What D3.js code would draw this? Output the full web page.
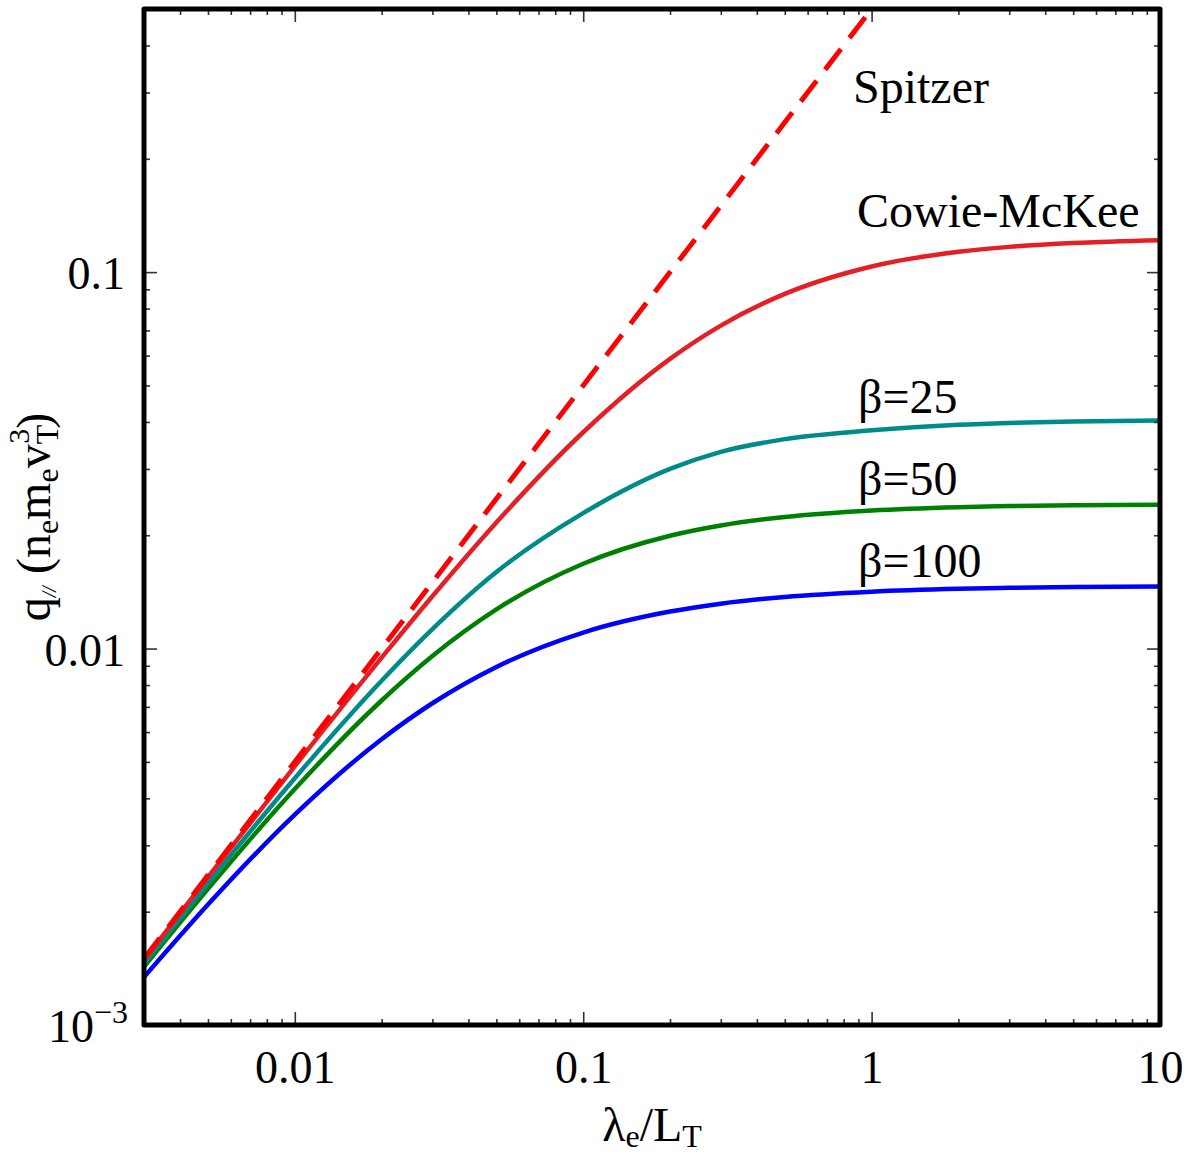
<!DOCTYPE html>
<html>
<head>
<meta charset="utf-8">
<script src="https://cdn.jsdelivr.net/npm/d3@7"></script>
<style>
	body { margin: 0; background: #fff; }
	text { font-family: "Liberation Serif", "Times New Roman", serif; fill: #000; }
</style>
</head>
<body>
<div id="chart"></div>
<script>
var width = 1203, height = 1155

// lambda_e / L_T sample points
const lambda = [0.003, 0.005, 0.01, 0.02, 0.03, 0.05, 0.1, 0.2, 0.3, 0.5, 1, 2, 3, 5, 10]

// q (n_e m_e v_T^3)
const cowieMcKee = [0.001489, 0.002471, 0.004871, 0.009458, 0.01377, 0.02163, 0.03755, 0.05882, 0.07211, 0.08753, 0.1035, 0.1132, 0.1167, 0.1195, 0.1216]
const beta25 = [0.001457, 0.00238, 0.004525, 0.008214, 0.011263, 0.01597, 0.0229, 0.0300, 0.0333, 0.0360, 0.0380, 0.0393, 0.03974, 0.04009, 0.04036]
const beta50 = [0.001427, 0.002299, 0.004235, 0.007279, 0.009557, 0.01271, 0.0168, 0.01994, 0.02123, 0.02237, 0.02328, 0.02375, 0.0239, 0.02402, 0.02411]
const beta100 = [0.00134, 0.002089, 0.003622, 0.005744, 0.007157, 0.008936, 0.01103, 0.01254, 0.01316, 0.01371, 0.01416, 0.01441, 0.0145, 0.01457, 0.01462]

// Spitzer is a straight line in log-log
const spitzerLambda = [0.003, 1]
const spitzerQ = [0.0015, 0.5]

const xMajor = [0.01, 0.1, 1, 10]
const xMajorLabels = ["0.01", "0.1", "1", "10"]
const yMajor = [0.001, 0.01, 0.1]
const yMajorLabels = ["10", "0.01", "0.1"]

const seriesNames = ["Cowie-McKee", "β=25", "β=50", "β=100"]

const margin = {left: 144, right: 43, top: 9, bottom: 130}

const svg = d3.select('#chart')
	.append('svg')
	.attr('width', width)
	.attr('height', height)

const x = d3.scaleLog()
	.domain([0.003, 10])
	.range([margin.left, width - margin.right])

const y = d3.scaleLog()
	.domain([0.001, 0.5])
	.range([height - margin.bottom, margin.top])

const x0 = x.range()[0], x1 = x.range()[1]
const y0 = y.range()[0], y1 = y.range()[1]

svg.append("defs").append("clipPath")
	.attr("id", "plotclip")
	.append("rect")
	.attr("x", x0).attr("y", y1)
	.attr("width", x1 - x0).attr("height", y0 - y1)

const line = d3.line()
	.x(d => x(d[0]))
	.y(d => y(d[1]))
	.curve(d3.curveMonotoneX)

const series = [
	{name: seriesNames[0], values: cowieMcKee, color: "#e41f26"},
	{name: seriesNames[1], values: beta25, color: "#008b8b"},
	{name: seriesNames[2], values: beta50, color: "#008000"},
	{name: seriesNames[3], values: beta100, color: "#0000ff"}
]

const plot = svg.append("g").attr("clip-path", "url(#plotclip)")

// draw lowest first so red stays on top like the original
plot.selectAll("path.curve")
	.data(series.slice().reverse())
	.join("path")
	.attr("class", "curve")
	.attr("fill", "none")
	.attr("stroke", d => d.color)
	.attr("stroke-width", 4.5)
	.attr("d", d => line(lambda.map((l, i) => [l, d.values[i]])))

plot.append("path")
	.attr("fill", "none")
	.attr("stroke", "#ff0000")
	.attr("stroke-width", 5)
	.attr("stroke-dasharray", "26,14")
	.attr("d", d3.line().x(d => x(d[0])).y(d => y(d[1]))(spitzerLambda.map((l, i) => [l, spitzerQ[i]])))

// minor ticks: 2..9 of every decade, without the majors
const xMinor = x.ticks().filter(v => !xMajor.some(m => Math.abs(m - v) / m < 1e-6) && v > 0.003 * 1.01 && v < 10)
const yMinor = y.ticks().filter(v => !yMajor.some(m => Math.abs(m - v) / m < 1e-6) && v > 0.001 && v < 0.5 * 0.99)

function tickAxis(axis, scale, values, size) {
	return axis(scale).tickValues(values).tickSize(-size).tickFormat("")
}

const tickColor = "#333"
const axes = [
	[d3.axisBottom, x, `translate(0,${y0})`, xMajor, xMinor],
	[d3.axisTop, x, `translate(0,${y1})`, xMajor, xMinor],
	[d3.axisLeft, y, `translate(${x0},0)`, yMajor, yMinor],
	[d3.axisRight, y, `translate(${x1},0)`, yMajor, yMinor]
]
axes.forEach(a => {
	[[a[3], 13], [a[4], 6]].forEach(t => {
		const g = svg.append("g")
			.attr("transform", a[2])
			.call(tickAxis(a[0], a[1], t[0], t[1]))
		g.select(".domain").remove()
		g.selectAll("line").attr("stroke", tickColor).attr("stroke-width", 1.6)
	})
})

// frame
svg.append("rect")
	.attr("x", x0).attr("y", y1)
	.attr("width", x1 - x0).attr("height", y0 - y1)
	.attr("fill", "none")
	.attr("stroke", "#000")
	.attr("stroke-width", 5)
	.attr("stroke-linejoin", "round")

// tick labels
const xl = svg.append("g")
	.attr("transform", `translate(0,${y0})`)
	.call(d3.axisBottom(x).tickValues(xMajor).tickSize(0).tickPadding(25)
		.tickFormat((d, i) => xMajorLabels[i]))
xl.select(".domain").remove()
xl.selectAll("text").attr("font-size", 46).attr("font-family", null)

const yl = svg.append("g")
	.attr("transform", `translate(${x0},0)`)
	.call(d3.axisLeft(y).tickValues(yMajor).tickSize(0).tickPadding(19)
		.tickFormat((d, i) => yMajorLabels[i]))
yl.select(".domain").remove()
yl.selectAll("text").attr("font-size", 46).attr("font-family", null).attr("dy", "0.36em")
yl.selectAll("text").filter(d => d === 0.001)
	.attr("dy", "0.36em")
	.attr("dx", 3)
	.each(function() {
		const t = d3.select(this)
		t.text(null)
		t.append("tspan").text("10")
		t.append("tspan").attr("font-size", 32).attr("dy", "-0.6em").text("−3")
	})

// curve labels
const labels = [
	{text: "Spitzer", x: 853, y: 103},
	{text: seriesNames[0], x: 857, y: 227},
	{text: seriesNames[1], x: 858, y: 413},
	{text: seriesNames[2], x: 858, y: 495},
	{text: seriesNames[3], x: 858, y: 577}
]
svg.append("g")
	.selectAll("text")
	.data(labels)
	.join("text")
	.attr("x", d => d.x)
	.attr("y", d => d.y)
	.attr("font-size", 48)
	.text(d => d.text)

// x title: lambda_e / L_T
const xt = svg.append("text")
	.attr("x", (x0 + x1) / 2)
	.attr("y", 1141)
	.attr("text-anchor", "middle")
	.attr("font-size", 48)
xt.append("tspan").text("λ")
xt.append("tspan").attr("font-size", 32).attr("dy", 6).text("e")
xt.append("tspan").attr("dy", -6).text("/L")
xt.append("tspan").attr("font-size", 32).attr("dy", 6).text("T")

// y title: q_// (n_e m_e v_T^3)
const yt = svg.append("text")
	.attr("transform", `translate(50,${(y0 + y1) / 2}) rotate(-90)`)
	.attr("text-anchor", "middle")
	.attr("font-size", 48)
yt.append("tspan").text("q")
yt.append("tspan").attr("font-size", 20).attr("font-style", "italic").attr("dy", 6).text("//")
yt.append("tspan").attr("dy", -6).text("\u00a0(n")
yt.append("tspan").attr("font-size", 32).attr("dy", 8).text("e")
yt.append("tspan").attr("dy", -8).text("m")
yt.append("tspan").attr("font-size", 32).attr("dy", 8).text("e")
yt.append("tspan").attr("dy", -8).text("v")
yt.append("tspan").attr("font-size", 32).attr("dy", 8).text("T")
yt.append("tspan").attr("font-size", 30).attr("dx", -19).attr("dy", -29).text("3")
yt.append("tspan").attr("dy", 21).text(")")
</script>
</body>
</html>
